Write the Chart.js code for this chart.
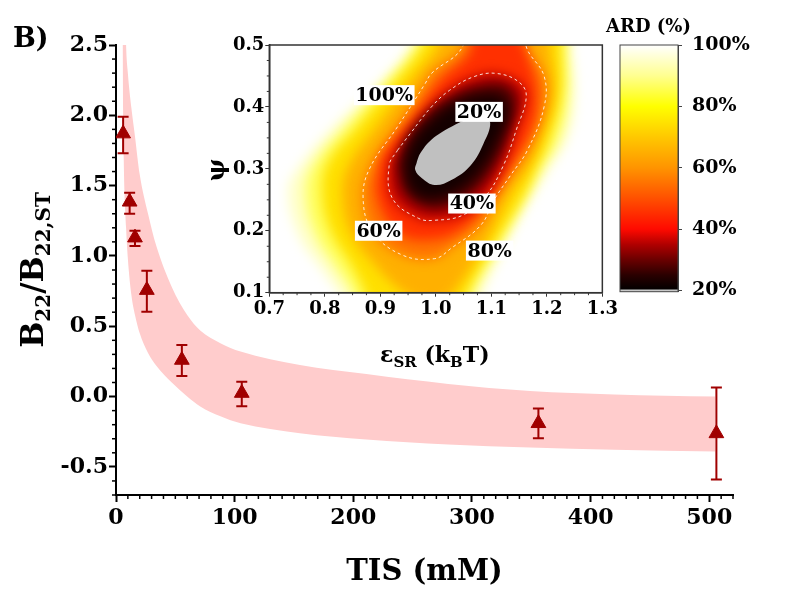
<!DOCTYPE html>
<html>
<head>
<meta charset="utf-8">
<script src="https://cdn.jsdelivr.net/npm/chart.js@4.4.1/dist/chart.umd.min.js"></script>
<style>
  html, body { margin: 0; padding: 0; background: #fff; }
  #wrap { position: relative; width: 800px; height: 606px; }
  canvas { position: absolute; }
  #main { left: 0; top: 0; }
  #inset { left: 190px; top: 30px; }
  #bar { left: 600px; top: 0; }
</style>
</head>
<body>
<div id="wrap">
  <canvas id="main" width="800" height="606"></canvas>
  <canvas id="inset" width="430" height="350"></canvas>
  <canvas id="bar" width="200" height="330"></canvas>
</div>
<script>
// ---- main panel: B22/B22,ST vs TIS ----
const tis     = [6, 11.5, 16, 26, 55.5, 106, 356, 506];
const ratio   = [1.87, 1.385, 1.13, 0.757, 0.26, 0.025, -0.19, -0.262];
const errHigh = [1.99, 1.45, 1.18, 0.895, 0.366, 0.105, -0.084, 0.065];
const errLow  = [1.73, 1.30, 1.07, 0.603, 0.146, -0.068, -0.297, -0.589];

// shaded prediction band
const bandX    = [5.5, 6.5, 8.5, 10, 13, 16, 20, 27, 34, 47, 60, 71, 88, 105, 155, 211, 280, 349, 420, 505];
const bandHigh = [4.0, 3.3, 2.5, 2.3, 2.05, 1.85, 1.58, 1.3, 1.07, 0.78, 0.58, 0.47, 0.38, 0.32, 0.225, 0.16, 0.09, 0.04, 0.015, 0.0];
const bandLow  = [2.5, 1.7, 1.2, 0.98, 0.72, 0.58, 0.45, 0.31, 0.22, 0.1, 0.0, -0.07, -0.14, -0.19, -0.26, -0.305, -0.34, -0.363, -0.378, -0.39];

const xTicks = [0, 100, 200, 300, 400, 500];
const yTicks = [-0.5, 0, 0.5, 1, 1.5, 2, 2.5];

// ---- inset: ARD map over (eps_SR, psi) ----
const epsTicks = [0.7, 0.8, 0.9, 1.0, 1.1, 1.2, 1.3];
const psiTicks = [0.1, 0.2, 0.3, 0.4, 0.5];

// contours, [eps, psi]
const ard100 = [[0.975,0.56],[0.954,0.50],[0.886,0.427],[0.822,0.374],[0.751,0.30],[0.734,0.262],[0.754,0.19],[0.795,0.137],[0.83,0.09],[0.85,0.04],[1.06,0.04],[1.08,0.09],[1.139,0.198],[1.205,0.30],[1.238,0.35],[1.251,0.42],[1.245,0.50],[1.245,0.56],[0.975,0.56]];
const ard90  = [[0.985,0.56],[0.965,0.50],[0.905,0.435],[0.84,0.372],[0.778,0.305],[0.765,0.262],[0.782,0.195],[0.822,0.138],[0.85,0.10],[0.87,0.04],[1.05,0.04],[1.068,0.10],[1.125,0.192],[1.19,0.30],[1.222,0.35],[1.238,0.42],[1.235,0.50],[1.235,0.56],[0.985,0.56]];
const ard80  = [[1.0,0.56],[0.977,0.50],[0.925,0.44],[0.86,0.37],[0.805,0.31],[0.795,0.26],[0.81,0.20],[0.85,0.14],[0.872,0.10],[0.89,0.05],[1.04,0.05],[1.056,0.10],[1.11,0.185],[1.16,0.26],[1.18,0.30],[1.205,0.35],[1.225,0.42],[1.226,0.50],[1.225,0.56],[1.0,0.56]];
const ard70  = [[1.02,0.56],[1.005,0.50],[0.958,0.445],[0.895,0.37],[0.843,0.305],[0.832,0.256],[0.848,0.195],[0.89,0.145],[0.935,0.105],[0.975,0.085],[1.01,0.085],[1.04,0.11],[1.095,0.19],[1.135,0.26],[1.165,0.30],[1.19,0.35],[1.212,0.42],[1.205,0.50],[1.2,0.56],[1.02,0.56]];
const ard60  = [[1.055,0.56],[1.048,0.497],[0.992,0.454],[0.981,0.438],[0.931,0.368],[0.881,0.301],[0.869,0.252],[0.886,0.199],[0.939,0.161],[0.998,0.155],[1.028,0.172],[1.081,0.209],[1.105,0.25],[1.135,0.29],[1.165,0.33],[1.195,0.40],[1.195,0.45],[1.163,0.497],[1.155,0.56],[1.055,0.56]];
const ard50  = [[1.065,0.52],[1.06,0.487],[1.01,0.445],[0.96,0.385],[0.91,0.33],[0.898,0.303],[0.895,0.252],[0.935,0.195],[0.998,0.186],[1.05,0.205],[1.095,0.25],[1.136,0.306],[1.173,0.365],[1.182,0.42],[1.17,0.47],[1.14,0.52],[1.065,0.52]];
const ard40  = [[0.931,0.330],[0.954,0.357],[0.992,0.400],[1.025,0.427],[1.069,0.449],[1.110,0.454],[1.150,0.440],[1.163,0.417],[1.145,0.363],[1.122,0.306],[1.089,0.255],[1.048,0.225],[0.998,0.217],[0.969,0.220],[0.922,0.252],[0.916,0.306],[0.931,0.330]];
const ard30  = [[0.93,0.305],[0.945,0.345],[0.985,0.39],[1.03,0.418],[1.08,0.435],[1.125,0.435],[1.145,0.41],[1.13,0.355],[1.105,0.305],[1.07,0.265],[1.025,0.24],[0.985,0.237],[0.945,0.26],[0.93,0.305]];
const ard25  = [[0.945,0.31],[0.96,0.345],[0.995,0.38],[1.035,0.405],[1.08,0.418],[1.118,0.415],[1.128,0.39],[1.11,0.345],[1.085,0.305],[1.05,0.272],[1.01,0.255],[0.975,0.255],[0.952,0.275],[0.945,0.31]];
const ard20  = [[0.966,0.312],[0.972,0.325],[0.992,0.347],[1.028,0.368],[1.06,0.38],[1.085,0.381],[1.098,0.374],[1.086,0.341],[1.063,0.306],[1.028,0.282],[0.998,0.274],[0.975,0.285],[0.963,0.298],[0.966,0.312]];

const contourText = ['100%', '20%', '40%', '60%', '80%'];
const contourEps  = [0.907, 1.078, 1.065, 0.897, 1.097];
const contourPsi  = [0.419, 0.392, 0.244, 0.200, 0.168];

// ---- colour bar ----
const barTicks = [20, 40, 60, 80, 100];
const ardSpan  = [20.2, 100];
const belowSpan = [19.6, 20.2];

const hotStops = [[20,'#000000'],[25,'#2a0000'],[30,'#6a0000'],[35,'#b00000'],[40,'#ff0a00'],[50,'#ff5000'],[60,'#ff9400'],[70,'#ffc800'],[80,'#ffff00'],[90,'#ffff90'],[100,'#ffffff']];

const SERIF = '"DejaVu Serif"';
const RED = '#a00000';
Chart.defaults.font.family = SERIF;
Chart.defaults.font.weight = 'bold';
Chart.defaults.color = '#000';

function richText(ctx, parts, x, y, size) {
  const big = `bold ${size}px ${SERIF}`;
  const small = `bold ${Math.round(size * 0.66)}px ${SERIF}`;
  let w = 0;
  parts.forEach(([t, sub]) => { ctx.font = sub ? small : big; w += ctx.measureText(t).width; });
  let cx = x - w / 2;
  ctx.textAlign = 'left';
  ctx.textBaseline = 'alphabetic';
  parts.forEach(([t, sub]) => {
    ctx.font = sub ? small : big;
    ctx.fillText(t, cx, sub ? y + size * 0.24 : y);
    cx += ctx.measureText(t).width;
  });
}

const pts = (xs, ys) => xs.map((x, i) => ({ x, y: ys[i] }));
const pairs = arr => arr.map(([x, y]) => ({ x, y }));

// ---------------- main chart ----------------
const mainDecor = {
  id: 'mainDecor',
  afterDraw(chart) {
    const { ctx, scales: { x, y }, chartArea: a } = chart;
    ctx.save();
    ctx.strokeStyle = '#000';
    ctx.lineWidth = 1.5;
    // minor ticks
    for (let i = -7; i <= 25; i++) {
      if (i % 5 === 0) continue;
      const py = y.getPixelForValue(i / 10);
      ctx.beginPath(); ctx.moveTo(a.left, py); ctx.lineTo(a.left - 4, py); ctx.stroke();
    }
    for (let v = 10; v <= 520; v += 10) {
      if (v % 100 === 0) continue;
      const px = x.getPixelForValue(v);
      ctx.beginPath(); ctx.moveTo(px, a.bottom); ctx.lineTo(px, a.bottom + 4); ctx.stroke();
    }
    // error bars
    ctx.strokeStyle = RED;
    ctx.lineWidth = 2;
    tis.forEach((t, i) => {
      const px = x.getPixelForValue(t);
      const hi = y.getPixelForValue(errHigh[i]);
      const lo = y.getPixelForValue(errLow[i]);
      ctx.beginPath();
      ctx.moveTo(px, hi); ctx.lineTo(px, lo);
      ctx.moveTo(px - 5.5, hi); ctx.lineTo(px + 5.5, hi);
      ctx.moveTo(px - 5.5, lo); ctx.lineTo(px + 5.5, lo);
      ctx.stroke();
    });
    // titles
    ctx.fillStyle = '#000';
    richText(ctx, [['TIS (mM)', 0]], (a.left + a.right) / 2, 580, 29);
    ctx.save();
    ctx.translate(43, 270);
    ctx.rotate(-Math.PI / 2);
    richText(ctx, [['B', 0], ['22', 1], ['/B', 0], ['22,ST', 1]], 0, 0, 31);
    ctx.restore();
    ctx.font = `bold 27px ${SERIF}`;
    ctx.textAlign = 'left';
    ctx.fillText('B)', 13, 47);
    ctx.restore();
  }
};

new Chart(document.getElementById('main'), {
  type: 'line',
  data: {
    datasets: [
      {
        label: 'TIS data', data: pts(tis, ratio), showLine: false,
        pointStyle: 'triangle', pointRadius: 8.5, pointBackgroundColor: RED,
        pointBorderColor: RED, pointBorderWidth: 1, order: 0
      },
      {
        label: 'band high', data: pts(bandX, bandHigh), fill: '+1',
        backgroundColor: '#ffcccc', borderColor: 'transparent', borderWidth: 0,
        pointRadius: 0, cubicInterpolationMode: 'monotone', order: 1
      },
      {
        label: 'band low', data: pts(bandX, bandLow), fill: false,
        borderColor: 'transparent', borderWidth: 0,
        pointRadius: 0, cubicInterpolationMode: 'monotone', order: 2
      }
    ]
  },
  options: {
    responsive: false, animation: false, events: [],
    layout: { padding: { top: 45, right: 67, left: 0, bottom: 0 }, autoPadding: false },
    plugins: { legend: { display: false }, tooltip: { enabled: false } },
    scales: {
      x: {
        type: 'linear', min: 0, max: 520,
        afterBuildTicks: s => { s.ticks = xTicks.map(v => ({ value: v })); },
        afterFit: s => { s.height = 111; },
        ticks: { font: { size: 22 }, padding: 3, callback: v => String(v) },
        grid: { drawOnChartArea: false, tickLength: 7, tickWidth: 2, tickColor: '#000' },
        border: { color: '#000', width: 2 }
      },
      y: {
        type: 'linear', min: -0.7, max: 2.5,
        afterBuildTicks: s => { s.ticks = yTicks.map(v => ({ value: v })); },
        afterFit: s => { s.width = 116; },
        ticks: { font: { size: 22 }, padding: 1, callback: v => v.toFixed(1) },
        grid: { drawOnChartArea: false, tickLength: 7, tickWidth: 2, tickColor: '#000' },
        border: { color: '#000', width: 2 }
      }
    }
  },
  plugins: [mainDecor]
});

// ---------------- inset map ----------------
const levels = [
  { pts: ard100, color: '#ffffc8', order: 100 },
  { pts: ard90,  color: '#ffff60', order: 90 },
  { pts: ard80,  color: '#ffe000', order: 80 },
  { pts: ard70,  color: '#ffb000', order: 70 },
  { pts: ard60,  color: '#ff7400', order: 60 },
  { pts: ard50,  color: '#ff3000', order: 50 },
  { pts: ard40,  color: '#b80000', order: 40 },
  { pts: ard30,  color: '#4a0000', order: 30 },
  { pts: ard25,  color: '#140000', order: 25, lastBlur: true }
];

const mapSets = levels.map(l => ({
  data: pairs(l.pts), fill: 'shape', backgroundColor: l.color,
  borderColor: 'transparent', borderWidth: 0, pointRadius: 0, tension: 0.4,
  order: l.order, lastBlur: !!l.lastBlur
}));
mapSets.push({
  data: pairs(ard20), fill: 'shape', backgroundColor: '#c0c0c0',
  borderColor: 'transparent', borderWidth: 0, pointRadius: 0, tension: 0.4, order: 20
});
[ard60, ard40].forEach((c, k) => mapSets.push({
  data: pairs(c), fill: false, borderColor: 'rgba(255,255,255,0.85)', borderWidth: 1,
  borderDash: [3, 3], pointRadius: 0, tension: 0.4, order: 10 - k
}));

const insetDecor = {
  id: 'insetDecor',
  beforeDatasetsDraw(chart) { chart.ctx.filter = 'blur(6px)'; },
  afterDatasetDraw(chart, args) {
    if (chart.data.datasets[args.index].lastBlur) chart.ctx.filter = 'none';
  },
  afterDatasetsDraw(chart) {
    const { ctx, scales: { x, y } } = chart;
    ctx.filter = 'none';
    ctx.save();
    ctx.font = `bold 19px ${SERIF}`;
    ctx.textAlign = 'center';
    ctx.textBaseline = 'middle';
    contourText.forEach((t, i) => {
      const px = x.getPixelForValue(contourEps[i]);
      const py = y.getPixelForValue(contourPsi[i]);
      const w = ctx.measureText(t).width + 3;
      ctx.fillStyle = '#fff';
      ctx.fillRect(px - w / 2, py - 10, w, 20);
      ctx.fillStyle = '#000';
      ctx.fillText(t, px, py + 1);
    });
    ctx.restore();
  },
  afterDraw(chart) {
    const { ctx, scales: { x, y }, chartArea: a } = chart;
    ctx.save();
    ctx.strokeStyle = '#333';
    ctx.lineWidth = 1;
    for (let i = 0; i <= 24; i++) {
      if (i % 4 === 0) continue;
      const px = x.getPixelForValue(0.7 + i * 0.025);
      ctx.beginPath(); ctx.moveTo(px, a.bottom); ctx.lineTo(px, a.bottom + 2.5); ctx.stroke();
    }
    for (let i = 0; i <= 16; i++) {
      if (i % 4 === 0) continue;
      const py = y.getPixelForValue(0.1 + i * 0.025);
      ctx.beginPath(); ctx.moveTo(a.left, py); ctx.lineTo(a.left - 2.5, py); ctx.stroke();
    }
    ctx.lineWidth = 1.5;
    ctx.strokeRect(a.left, a.top, a.right - a.left, a.bottom - a.top);
    ctx.fillStyle = '#000';
    richText(ctx, [['ε', 0], ['SR', 1], [' (k', 0], ['B', 1], ['T)', 0]], (a.left + a.right) / 2 - 1, 332, 22);
    ctx.save();
    ctx.translate(34, 140);
    ctx.rotate(-Math.PI / 2);
    richText(ctx, [['ψ', 0]], 0, 0, 24);
    ctx.restore();
    ctx.restore();
  }
};

new Chart(document.getElementById('inset'), {
  type: 'line',
  data: { datasets: mapSets },
  options: {
    responsive: false, animation: false, events: [],
    elements: { line: { capBezierPoints: false } },
    layout: { padding: { top: 15, right: 10.7, left: 0, bottom: 0 }, autoPadding: false },
    plugins: { legend: { display: false }, tooltip: { enabled: false } },
    scales: {
      x: {
        type: 'linear', min: 0.7, max: 1.3,
        afterBuildTicks: s => { s.ticks = epsTicks.map(v => ({ value: v })); },
        afterFit: s => { s.height = 87.3; },
        ticks: { font: { size: 18 }, padding: 2, callback: v => v.toFixed(1) },
        grid: { drawOnChartArea: false, tickLength: 4, tickColor: '#333' },
        border: { color: '#333', width: 1.5 }
      },
      y: {
        type: 'linear', min: 0.1, max: 0.5,
        afterBuildTicks: s => { s.ticks = psiTicks.map(v => ({ value: v })); },
        afterFit: s => { s.width = 79.3; },
        ticks: { font: { size: 18 }, padding: 1, callback: v => v.toFixed(1) },
        grid: { drawOnChartArea: false, tickLength: 4, tickColor: '#333' },
        border: { color: '#333', width: 1.5 }
      }
    }
  },
  plugins: [insetDecor]
});

// ---------------- colour bar ----------------
function hotGradient(c) {
  const ch = c.chart;
  if (!ch.chartArea) return null;
  const y = ch.scales.y;
  const g = ch.ctx.createLinearGradient(0, y.getPixelForValue(20), 0, y.getPixelForValue(100));
  hotStops.forEach(([v, col]) => g.addColorStop((v - 20) / 80, col));
  return g;
}

const barDecor = {
  id: 'barDecor',
  afterDraw(chart) {
    const { ctx, chartArea: a } = chart;
    ctx.save();
    ctx.strokeStyle = '#444';
    ctx.lineWidth = 1;
    ctx.strokeRect(a.left, a.top, a.right - a.left, a.bottom - a.top);
    ctx.fillStyle = '#000';
    richText(ctx, [['ARD (%)', 0]], 48.5, 32, 18);
    ctx.restore();
  }
};

new Chart(document.getElementById('bar'), {
  type: 'bar',
  data: {
    labels: ['ARD'],
    datasets: [
      { data: [belowSpan], backgroundColor: '#c8c8c8', borderWidth: 0 },
      { data: [ardSpan], backgroundColor: hotGradient, borderWidth: 0 }
    ]
  },
  options: {
    responsive: false, animation: false, events: [],
    layout: { padding: { left: 20, top: 45, right: 0, bottom: 38.3 }, autoPadding: false },
    plugins: { legend: { display: false }, tooltip: { enabled: false } },
    datasets: { bar: { barPercentage: 1, categoryPercentage: 1, grouped: false } },
    scales: {
      x: { display: false },
      y: {
        position: 'right', min: 19.6, max: 100,
        afterBuildTicks: s => { s.ticks = barTicks.map(v => ({ value: v })); },
        afterFit: s => { s.width = 122; },
        ticks: { font: { size: 19 }, padding: 10, callback: v => v + '%' },
        grid: { drawOnChartArea: false, tickLength: 4, tickColor: '#444' },
        border: { color: '#444', width: 1 }
      }
    }
  },
  plugins: [barDecor]
});
</script>
</body>
</html>
